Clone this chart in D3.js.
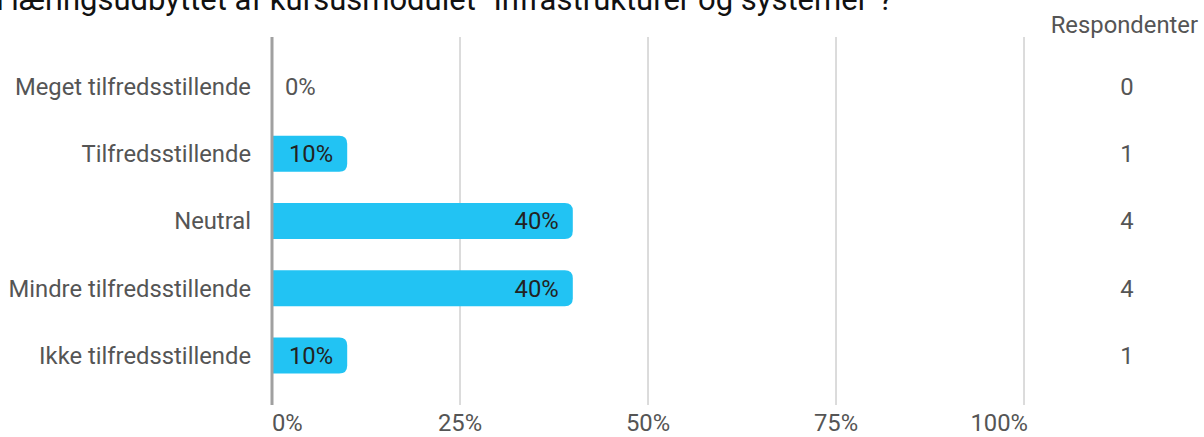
<!DOCTYPE html>
<html><head><meta charset="utf-8">
<script src="https://cdn.jsdelivr.net/npm/d3@7"></script>
<style>
html,body{margin:0;padding:0;background:#fff;overflow:hidden;}
svg{display:block;font-family:Roboto, "Noto Sans", sans-serif;}
</style></head><body>
<svg id="chart" width="1204" height="437"></svg>
<script>
const title = 'Hvordan vurderer du læringsudbyttet af kursusmodulet "Infrastrukturer og systemer"?';
const categories = ["Meget tilfredsstillende","Tilfredsstillende","Neutral","Mindre tilfredsstillende","Ikke tilfredsstillende"];
const percents = [0, 10, 40, 40, 10];
const respondents = [0, 1, 4, 4, 1];
const tickValues = [0, 25, 50, 75, 100];
const tickLabels = ["0%","25%","50%","75%","100%"];
const countHeader = "Respondenter";

const svg = d3.select("#chart");
const x = d3.scaleLinear().domain([0,100]).range([272,1024]);
const y = d3.scaleBand().domain(categories).range([53,389]).paddingInner(0.46).paddingOuter(0.23);
const fs = 23.8;

// title (clipped at top-left like the reference)
svg.append("text").attr("x",893).attr("y",10).attr("text-anchor","end")
  .attr("font-size",31).attr("fill","#111").text(title);

// gridlines
svg.append("g").selectAll("line").data(tickValues.slice(1)).join("line")
  .attr("x1",d=>x(d)).attr("x2",d=>x(d)).attr("y1",37).attr("y2",405)
  .attr("stroke","#b8b8b8").attr("stroke-width",1);

// bars with rounded right end
const r = 8;
function barPath(x0,x1,y0,h){
  const w = x1-x0; if(w<=0) return "";
  const rr = Math.min(r,w,h/2);
  return `M${x0},${y0}H${x1-rr}Q${x1},${y0} ${x1},${y0+rr}V${y0+h-rr}Q${x1},${y0+h} ${x1-rr},${y0+h}H${x0}Z`;
}
const bh = 36;
svg.append("g").selectAll("path").data(categories).join("path")
  .attr("d",(c,i)=>barPath(x(0),x(percents[i]),y(c)+y.bandwidth()/2-bh/2,bh))
  .attr("fill","#22c3f3");

// zero axis line
svg.append("line").attr("x1",x(0)).attr("x2",x(0)).attr("y1",37).attr("y2",405)
  .attr("stroke","#a0a0a0").attr("stroke-width",3);

// bar value labels
svg.append("g").selectAll("text").data(categories).join("text")
  .attr("x",(c,i)=>percents[i]>0 ? x(percents[i])-14 : x(0)+13)
  .attr("y",c=>y(c)+y.bandwidth()/2)
  .attr("dy","0.35em")
  .attr("text-anchor",(c,i)=>percents[i]>0?"end":"start")
  .attr("font-size",fs)
  .attr("fill",(c,i)=>percents[i]>0?"#222":"#555")
  .text((c,i)=>percents[i]+"%");

// category labels
svg.append("g").selectAll("text").data(categories).join("text")
  .attr("x",251).attr("y",c=>y(c)+y.bandwidth()/2).attr("dy","0.35em")
  .attr("text-anchor","end").attr("font-size",fs).attr("fill","#555").text(c=>c);

// respondent counts
svg.append("text").attr("x",1198).attr("y",33).attr("text-anchor","end")
  .attr("font-size",fs).attr("fill","#555").text(countHeader);
svg.append("g").selectAll("text").data(categories).join("text")
  .attr("x",1127).attr("y",c=>y(c)+y.bandwidth()/2).attr("dy","0.35em")
  .attr("text-anchor","middle").attr("font-size",fs).attr("fill","#555")
  .text((c,i)=>respondents[i]);

// x tick labels
svg.append("g").selectAll("text").data(tickValues).join("text")
  .attr("x",(d,i)=> i===0 ? x(d) : (i===tickValues.length-1 ? x(d)+4 : x(d)))
  .attr("y",431)
  .attr("text-anchor",(d,i)=> i===0?"start":(i===tickValues.length-1?"end":"middle"))
  .attr("font-size",fs).attr("fill","#555")
  .text((d,i)=>tickLabels[i]);
</script>
</body></html>
